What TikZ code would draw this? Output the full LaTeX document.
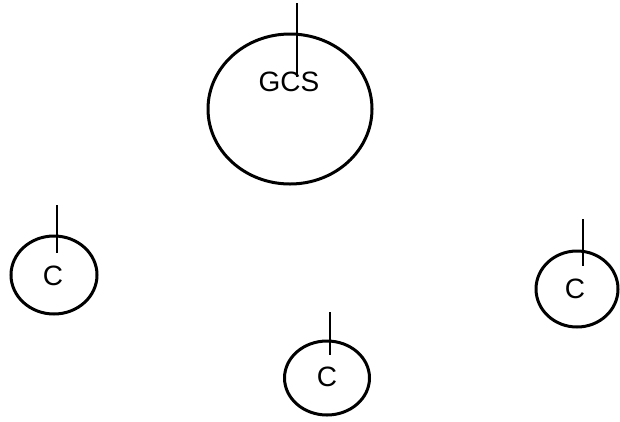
\documentclass[tikz,border=0pt]{standalone}
\usepackage{fontspec}
\setmainfont{Liberation Sans}
\usetikzlibrary{shapes.geometric}
\begin{document}
\begin{tikzpicture}[x=1pt,y=-1pt,
  ring/.style={draw,ellipse,line width=3pt,inner sep=0pt},
  lbl/.style={font=\fontsize{28}{28}\selectfont},
  stub/.style={line width=2.6pt}]
\useasboundingbox (0,0) rectangle (620,421);
% GCS
\node[ring,minimum width=164pt,minimum height=150pt] (gcs) at (290,109) {};
\node[lbl] (gcst) at (289,82) {GCS};
\coordinate (gtop) at (297,3);
\coordinate (gbot) at (297,77);
\draw[stub] (gtop) -- (gbot);
% left C
\node[ring,minimum width=86pt,minimum height=78pt] (c1) at (54,275) {};
\node[lbl] (c1t) at (53,276) {C};
\coordinate (c1a) at (57,205);
\coordinate (c1b) at (57,253);
\draw[stub] (c1a) -- (c1b);
% right C
\node[ring,minimum width=82pt,minimum height=76pt] (c2) at (577,289) {};
\node[lbl] (c2t) at (575,289) {C};
\coordinate (c2a) at (583,219);
\coordinate (c2b) at (583,266);
\draw[stub] (c2a) -- (c2b);
% bottom C
\node[ring,minimum width=85pt,minimum height=74pt] (c3) at (327,378) {};
\node[lbl] (c3t) at (327,377) {C};
\coordinate (c3a) at (330,312);
\coordinate (c3b) at (330,355);
\draw[stub] (c3a) -- (c3b);
\end{tikzpicture}
\end{document}
